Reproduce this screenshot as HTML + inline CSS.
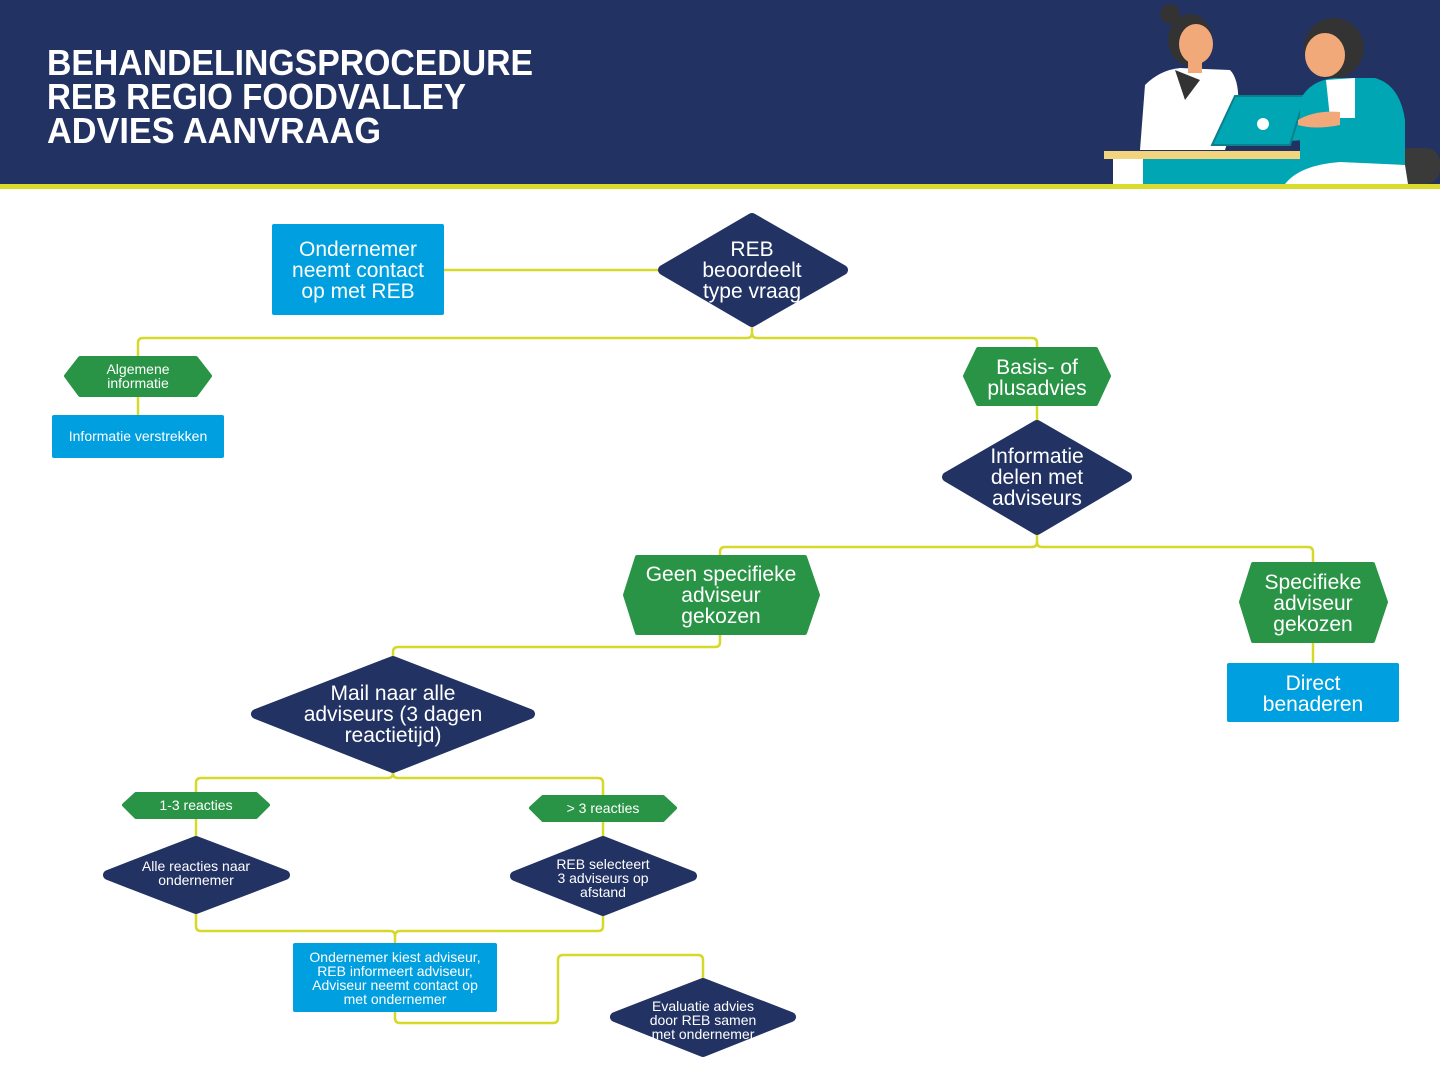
<!DOCTYPE html>
<html><head><meta charset="utf-8"><style>
html,body{margin:0;padding:0;background:#fff}
svg{display:block}
text{font-family:"Liberation Sans",sans-serif;fill:#fff}
</style></head><body>
<svg width="1440" height="1080" viewBox="0 0 1440 1080" xmlns="http://www.w3.org/2000/svg">
<rect x="0" y="0" width="1440" height="184" fill="#213263"/>
<rect x="0" y="184" width="1440" height="5" fill="#d9dc2a"/>
<g font-weight="bold" font-size="36">
<text x="47" y="75" textLength="486" lengthAdjust="spacingAndGlyphs">BEHANDELINGSPROCEDURE</text>
<text x="47" y="109" textLength="419" lengthAdjust="spacingAndGlyphs">REB REGIO FOODVALLEY</text>
<text x="47" y="143" textLength="334" lengthAdjust="spacingAndGlyphs">ADVIES AANVRAAG</text>
</g>
<!-- illustration -->
<g>
<rect x="1395" y="148" width="45" height="36" rx="14" fill="#3a3a3a"/>
<path d="M1140 150 L1145 85 Q1160 70 1180 68 L1230 70 Q1240 80 1238 110 L1225 150 Z" fill="#fff"/>
<path d="M1175 70 L1185 100 L1200 80 Z" fill="#333"/>
<circle cx="1170" cy="14" r="10" fill="#333"/>
<ellipse cx="1190" cy="40" rx="22" ry="26" fill="#333"/>
<ellipse cx="1196" cy="44" rx="17" ry="20" fill="#f2a97a"/>
<rect x="1188" y="55" width="14" height="18" fill="#f2a97a"/>
<path d="M1214 95 L1235 95 L1225 145 L1305 140 L1300 95 Z" fill="#00a6b4"/>
<path d="M1212 145 L1235 96 L1305 96 L1290 145 Z" fill="#00a6b4" stroke="#0b7f8a" stroke-width="2"/>
<circle cx="1263" cy="124" r="6" fill="#fff"/>
<rect x="1104" y="151" width="200" height="8" fill="#f2d37e"/>
<rect x="1113" y="159" width="195" height="25" fill="#00a6b4"/>
<rect x="1113" y="159" width="30" height="25" fill="#fff"/>
<path d="M1300 184 L1300 100 Q1310 80 1335 78 L1375 78 Q1400 85 1405 120 L1405 180 Z" fill="#00a6b4"/>
<path d="M1326 80 L1355 78 L1355 118 L1330 118 Z" fill="#fff"/>
<path d="M1285 184 Q1300 165 1340 162 L1405 165 L1408 184 Z" fill="#fff"/>
<ellipse cx="1334" cy="48" rx="30" ry="30" fill="#333"/>
<ellipse cx="1325" cy="55" rx="20" ry="22" fill="#f2a97a"/>
<path d="M1298 120 Q1315 110 1340 112 L1340 125 Q1315 130 1298 125 Z" fill="#f2a97a"/>
</g>
<!-- connectors -->
<g fill="none" stroke="#d6d92a" stroke-width="2.5" stroke-linejoin="round">
<path d="M444 270 H660"/>
<path d="M752 325 V333 Q752 338 747 338 H143 Q138 338 138 343 V358"/>
<path d="M752 333 Q752 338 757 338 H1032 Q1037 338 1037 343 V350"/>
<path d="M138 395 V417"/>
<path d="M1037 404 V424"/>
<path d="M1037 532 V542 Q1037 547 1032 547 H725 Q720 547 720 552 V558"/>
<path d="M1037 542 Q1037 547 1042 547 H1308 Q1313 547 1313 552 V565"/>
<path d="M1313 640 V665"/>
<path d="M720 632 V642 Q720 647 715 647 H398 Q393 647 393 652 V660"/>
<path d="M393 770 V773 Q393 778 388 778 H201 Q196 778 196 783 V794"/>
<path d="M393 773 Q393 778 398 778 H598 Q603 778 603 783 V797"/>
<path d="M196 818 V840"/>
<path d="M603 820 V840"/>
<path d="M196 910 V926 Q196 931 201 931 H390 Q395 931 395 936 V945"/>
<path d="M603 912 V926 Q603 931 598 931 H400 Q395 931 395 936"/>
<path d="M395 1010 V1018 Q395 1023 400 1023 H553 Q558 1023 558 1018 V960 Q558 955 563 955 H698 Q703 955 703 960 V982"/>
</g>
<!-- blue boxes -->
<g fill="#009fdf">
<rect x="272" y="224" width="172" height="91" rx="2"/>
<rect x="52" y="415" width="172" height="43" rx="2"/>
<rect x="1227" y="663" width="172" height="59" rx="2"/>
<rect x="293" y="943" width="204" height="69" rx="2"/>
</g>
<!-- diamonds -->
<g fill="#213263" stroke="#213263" stroke-width="10" stroke-linejoin="round">
<polygon points="663,270 752,218 843,270 752,322"/>
<polygon points="947,477 1037,425 1127,477 1037,530"/>
<polygon points="256,714 393,661 530,714 393,768"/>
<polygon points="108,875 196,841 285,875 196,909"/>
<polygon points="515,876 603,841 692,876 603,911"/>
<polygon points="615,1017 703,983 791,1017 703,1052"/>
</g>
<!-- green hexes -->
<g fill="#2a9446" stroke="#2a9446" stroke-width="4" stroke-linejoin="round">
<polygon points="66,376 80,358 196,358 210,376 196,395 80,395"/>
<polygon points="965,376 978,349 1096,349 1109,376 1096,404 978,404"/>
<polygon points="625,595 637,557 805,557 818,595 805,633 637,633"/>
<polygon points="1241,602 1253,564 1373,564 1386,602 1373,641 1253,641"/>
<polygon points="124,805 136,794 256,794 268,805 256,817 136,817"/>
<polygon points="531,808 543,797 663,797 675,808 663,820 543,820"/>
</g>
<!-- texts -->
<g text-anchor="middle">
<g font-size="21">
<text x="358" y="256">Ondernemer</text><text x="358" y="277">neemt contact</text><text x="358" y="298">op met REB</text>
<text x="752" y="256">REB</text><text x="752" y="277">beoordeelt</text><text x="752" y="298">type vraag</text>
<text x="1037" y="374">Basis- of</text><text x="1037" y="395">plusadvies</text>
<text x="1037" y="463">Informatie</text><text x="1037" y="484">delen met</text><text x="1037" y="505">adviseurs</text>
<text x="721" y="581">Geen specifieke</text><text x="721" y="602">adviseur</text><text x="721" y="623">gekozen</text>
<text x="1313" y="589">Specifieke</text><text x="1313" y="610">adviseur</text><text x="1313" y="631">gekozen</text>
<text x="1313" y="690">Direct</text><text x="1313" y="711">benaderen</text>
<text x="393" y="700">Mail naar alle</text><text x="393" y="721">adviseurs (3 dagen</text><text x="393" y="742">reactietijd)</text>
</g>
<g font-size="14">
<text x="138" y="374">Algemene</text><text x="138" y="388">informatie</text>
<text x="138" y="441">Informatie verstrekken</text>
<text x="196" y="810">1-3 reacties</text>
<text x="603" y="813">&gt; 3 reacties</text>
<text x="196" y="871">Alle reacties naar</text><text x="196" y="885">ondernemer</text>
<text x="603" y="869">REB selecteert</text><text x="603" y="883">3 adviseurs op</text><text x="603" y="897">afstand</text>
<text x="395" y="962">Ondernemer kiest adviseur,</text><text x="395" y="976">REB informeert adviseur,</text><text x="395" y="990">Adviseur neemt contact op</text><text x="395" y="1004">met ondernemer</text>
<text x="703" y="1011">Evaluatie advies</text><text x="703" y="1025">door REB samen</text><text x="703" y="1039">met ondernemer</text>
</g>
</g>
</svg>
</body></html>
